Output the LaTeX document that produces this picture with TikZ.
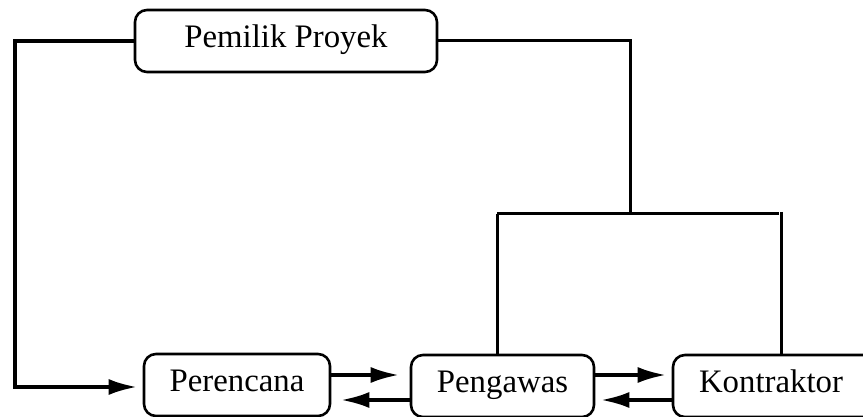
\documentclass[tikz,border=0pt]{standalone}
\usepackage{fontspec}
\setmainfont{Liberation Serif}
\usetikzlibrary{arrows.meta,calc}
\begin{document}
\begin{tikzpicture}[x=0.5pt,y=-0.5pt,
  box/.style={draw,line width=1.3pt,rounded corners=6pt,
    font=\fontsize{16.4}{19}\selectfont,text height=0.66em,text depth=0pt,
    inner sep=0pt,minimum height=31pt},
  conn/.style={line width=1.5pt},
  arr/.style={line width=1.6pt,-{Latex[length=14pt,width=8pt]}}]
\useasboundingbox (0,0) rectangle (863,417);
\node[box,minimum width=151pt] (pem) at (286,41) {Pemilik Proyek};
\node[box,minimum width=93pt] (per) at (237,385) {Perencana};
\node[box,minimum width=91.5pt] (pg) at (502.5,386) {Pengawas};
\node[box,minimum width=103pt] (kt) at (776,386) {\hspace*{-5pt}Kontraktor};
% left branch
\coordinate (lc) at (15,41);
\draw[arr] (pem.west) -- (lc) |- ($(per.west)+(-6,2)$);
% right branch
\coordinate (rc) at (630,41);
\coordinate (jn) at (630,214);
\coordinate (bl) at (497,214);
\coordinate (br) at (779,214);
\coordinate (kc) at (781,212);
\draw[conn] (pem.east) -- (rc) -- (jn);
\draw[conn] (bl) -- (br);
\draw[conn] (bl) -- (bl |- pg.north);
\draw[conn] (kc) -- (kc |- kt.north);
% arrows between boxes
\draw[arr] ($(per.east)+(0,-10)$) -- ($(pg.west)+(-11,-11)$);
\draw[arr] ($(pg.west)+(0,14)$) -- ($(per.east)+(10,15)$);
\draw[arr] ($(pg.east)+(0,-11)$) -- ($(kt.west)+(-6,-11)$);
\draw[arr] ($(kt.west)+(0,14)$) -- ($(pg.east)+(6,14)$);
\end{tikzpicture}
\end{document}
